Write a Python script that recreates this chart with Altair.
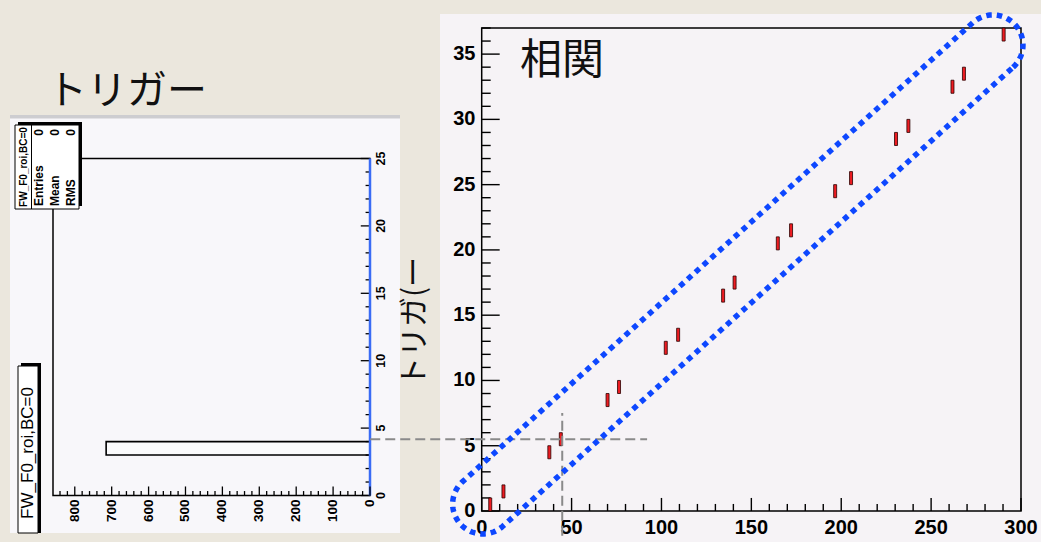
import altair as alt
import numpy as np
import pandas as pd

W, H = 1041, 542

# 2-D correlation histogram: filled cells (x centre, lower edge of the y bin)
corr_x = [2, 9.5, 35.5, 42, 68.5, 75, 101.5, 108.5, 134, 140.5,
          165, 172.5, 197.5, 206.5, 232, 239, 264, 270.5, 293]
corr_ybin = [0, 1, 4, 5, 8, 9, 12, 13, 16, 17,
             20, 21, 24, 25, 28, 29, 32, 33, 36]

# trigger histogram (drawn rotated): lower bin edge and entries
trig_bin = [3]
trig_count = [715]

corr_x_labels = [0, 50, 100, 150, 200, 250, 300]
corr_y_labels = [0, 5, 10, 15, 20, 25, 30, 35]
trig_count_labels = [0, 100, 200, 300, 400, 500, 600, 700, 800]
trig_bin_labels = [0, 5, 10, 15, 20, 25]

stat_title = "FW_F0_roi,BC=0"
stat_names = ["Entries", "Mean", "RMS"]
stat_values = ["0", "0", "0"]

# guide lines on the correlation plot
guide_y = 5.5
guide_x = 44.8

# selection band: two end caps joined by straight sides (data units)
band_cap_lo = (0.55, 0.54)
band_cap_hi = (284.4, 35.7)
band_rx, band_ry = 16.7, 2.3

# ---------------------------------------------------------------- scales
SXR = alt.Scale(domain=[0, 300], range=[481.7, 1021], nice=False, zero=False)
SYR = alt.Scale(domain=[0, 37], range=[511, 28], nice=False, zero=False)
SXL = alt.Scale(domain=[0, 859], range=[370, 53], nice=False, zero=False)
SYL = alt.Scale(domain=[0, 25], range=[495.5, 158.5], nice=False, zero=False)

one = pd.DataFrame({"k": [0]})
LABEL_FONT = "Liberation Sans"
TICK_TEXT = dict(font=LABEL_FONT, fontWeight="bold", color="black")


def box(x1, x2, y1, y2, **kw):
    return alt.Chart(one).mark_rect(**kw).encode(
        x=alt.value(x1), x2=alt.value(x2), y=alt.value(y1), y2=alt.value(y2))


def label(text, x, y, **kw):
    return alt.Chart(one).mark_text(text=text, **kw).encode(
        x=alt.value(x), y=alt.value(y))


def vals(v):
    return pd.DataFrame({"v": v})


layers = []

# ---------------------------------------------------------------- panels
layers.append(box(10, 400, 115, 533, fill="#f8f7fa"))
layers.append(box(10, 400, 115, 118.5, fill="#cdcdd0"))
layers.append(box(440, W, 14, H, fill="#f6f3f6"))

# ---------------------------------------------------------------- left: trigger histogram
layers.append(alt.Chart(one).mark_rect(fill="transparent", stroke="black", strokeWidth=1.5).encode(
    x=alt.XDatum(0, scale=SXL, axis=None), x2=alt.X2Datum(859),
    y=alt.YDatum(0, scale=SYL, axis=None), y2=alt.Y2Datum(25)))

trig_df = pd.DataFrame({"bin": trig_bin, "count": trig_count})
layers.append(alt.Chart(trig_df).transform_calculate(hi="datum.bin + 1").mark_rect(
    fill="#fbfbfc", stroke="black", strokeWidth=1.6).encode(
    x=alt.X("count:Q", scale=SXL, axis=None), x2=alt.X2Datum(0),
    y=alt.Y("bin:Q", scale=SYL, axis=None), y2="hi:Q"))

trig_bin_minor = [v for v in range(26) if v % 5]
trig_count_minor = [v for v in range(0, 860, 20) if v % 100]

# bin axis on the right: inward ticks, blue axis line, rotated labels
layers.append(alt.Chart(vals(trig_bin_minor)).mark_rule(color="black", strokeWidth=1.3).encode(
    y=alt.Y("v:Q", scale=SYL, axis=None),
    x=alt.XDatum(0, scale=SXL, axis=None), x2=alt.X2Datum(12)))
layers.append(alt.Chart(vals(trig_bin_labels)).mark_rule(color="black", strokeWidth=1.3).encode(
    y=alt.Y("v:Q", scale=SYL, axis=None),
    x=alt.XDatum(0, scale=SXL, axis=None), x2=alt.X2Datum(25)))
layers.append(alt.Chart(one).mark_rule(color="#3a6cf5", strokeWidth=2.5).encode(
    x=alt.XDatum(0, scale=SXL, axis=None),
    y=alt.YDatum(0, scale=SYL, axis=None), y2=alt.Y2Datum(25)))
layers.append(alt.Chart(vals(trig_bin_labels)).mark_text(
    angle=270, align="center", baseline="top", fontSize=12.5, **TICK_TEXT).encode(
    y=alt.Y("v:Q", scale=SYL, axis=None),
    x=alt.XDatum(-13.5, scale=SXL, axis=None),
    text=alt.Text("v:Q")))

# entries axis along the bottom
layers.append(alt.Chart(vals(trig_count_minor)).mark_rule(color="black", strokeWidth=1.3).encode(
    x=alt.X("v:Q", scale=SXL, axis=None),
    y=alt.YDatum(0, scale=SYL, axis=None), y2=alt.Y2Datum(0.33)))
layers.append(alt.Chart(vals(trig_count_labels)).mark_rule(color="black", strokeWidth=1.3).encode(
    x=alt.X("v:Q", scale=SXL, axis=None),
    y=alt.YDatum(0, scale=SYL, axis=None), y2=alt.Y2Datum(0.67)))
layers.append(alt.Chart(vals(trig_count_labels)).mark_text(
    angle=270, align="right", baseline="middle", fontSize=13.5, **TICK_TEXT).encode(
    x=alt.X("v:Q", scale=SXL, axis=None),
    y=alt.YDatum(-0.3, scale=SYL, axis=None),
    text=alt.Text("v:Q")))

# statistics box (top-left) with its shadow
layers.append(box(18, 82, 122, 206, fill="black"))
layers.append(box(15, 79, 125, 209, fill="white", stroke="black", strokeWidth=1))
layers.append(alt.Chart(one).mark_rule(color="black", strokeWidth=1).encode(
    x=alt.value(31.5), y=alt.value(125), y2=alt.value(209)))
layers.append(label(stat_title, 23.5, 167, angle=270, align="center", baseline="middle",
                    font=LABEL_FONT, fontWeight="bold", fontSize=10, color="black"))
for i, (name, value) in enumerate(zip(stat_names, stat_values)):
    cx = 39 + 16 * i
    layers.append(label(name, cx, 206, angle=270, align="left", baseline="middle",
                        font=LABEL_FONT, fontWeight="bold", fontSize=12, color="black"))
    layers.append(label(value, cx, 129, angle=270, align="right", baseline="middle",
                        font=LABEL_FONT, fontWeight="bold", fontSize=12, color="black"))

# title box (bottom-left) with its shadow
layers.append(box(21, 41, 363, 533, fill="black"))
layers.append(box(18, 38, 366, 533, fill="white", stroke="black", strokeWidth=1))
layers.append(label(stat_title, 27.5, 453, angle=270, align="center", baseline="middle",
                    font=LABEL_FONT, fontSize=17, color="black"))

# ---------------------------------------------------------------- right: correlation histogram
layers.append(alt.Chart(one).mark_rect(fill="transparent", stroke="black", strokeWidth=1.5).encode(
    x=alt.XDatum(0, scale=SXR, axis=None), x2=alt.X2Datum(300),
    y=alt.YDatum(0, scale=SYR, axis=None), y2=alt.Y2Datum(37)))

corr_y_minor = [v for v in range(38) if v % 5]
corr_x_minor = [v for v in range(0, 301, 10) if v % 50]

layers.append(alt.Chart(vals(corr_y_minor)).mark_rule(color="black", strokeWidth=1.4).encode(
    y=alt.Y("v:Q", scale=SYR, axis=None),
    x=alt.XDatum(0, scale=SXR, axis=None), x2=alt.X2Datum(5)))
layers.append(alt.Chart(vals(corr_y_labels)).mark_rule(color="black", strokeWidth=1.4).encode(
    y=alt.Y("v:Q", scale=SYR, axis=None),
    x=alt.XDatum(0, scale=SXR, axis=None), x2=alt.X2Datum(10)))
layers.append(alt.Chart(vals(corr_y_labels)).mark_text(
    align="right", baseline="middle", fontSize=20, **TICK_TEXT).encode(
    y=alt.Y("v:Q", scale=SYR, axis=None),
    x=alt.XDatum(-3.5, scale=SXR, axis=None),
    text=alt.Text("v:Q")))

layers.append(alt.Chart(vals(corr_x_minor)).mark_rule(color="black", strokeWidth=1.4).encode(
    x=alt.X("v:Q", scale=SXR, axis=None),
    y=alt.YDatum(0, scale=SYR, axis=None), y2=alt.Y2Datum(0.54)))
layers.append(alt.Chart(vals(corr_x_labels)).mark_rule(color="black", strokeWidth=1.4).encode(
    x=alt.X("v:Q", scale=SXR, axis=None),
    y=alt.YDatum(0, scale=SYR, axis=None), y2=alt.Y2Datum(1.0)))
layers.append(alt.Chart(vals(corr_x_labels)).mark_text(
    align="center", baseline="top", fontSize=20, **TICK_TEXT).encode(
    x=alt.X("v:Q", scale=SXR, axis=None),
    y=alt.YDatum(-0.5, scale=SYR, axis=None),
    text=alt.Text("v:Q")))

# filled cells: red box with a dark edge
corr_df = pd.DataFrame({"x": corr_x, "ybin": corr_ybin})
layers.append(alt.Chart(corr_df).transform_calculate(hi="datum.ybin + 1").mark_bar(
    size=3, color="#ee1c22", stroke="#2a0000", strokeWidth=0.8).encode(
    x=alt.X("x:Q", scale=SXR, axis=None),
    y=alt.Y("ybin:Q", scale=SYR, axis=None), y2="hi:Q"))

# dashed guides
layers.append(alt.Chart(one).mark_rule(color="#8a8a8a", strokeWidth=2, strokeDash=[10, 5], clip=False).encode(
    y=alt.YDatum(guide_y, scale=SYR, axis=None),
    x=alt.XDatum(-62, scale=SXR, axis=None), x2=alt.X2Datum(92)))
layers.append(alt.Chart(one).mark_rule(color="#8a8a8a", strokeWidth=2, strokeDash=[10, 5], clip=False).encode(
    x=alt.XDatum(guide_x, scale=SXR, axis=None),
    y=alt.YDatum(-1.9, scale=SYR, axis=None), y2=alt.Y2Datum(7.5)))

# dotted selection band around the diagonal
t_hi = np.deg2rad(np.arange(-48, 133, 3))
t_lo = np.deg2rad(np.arange(132, 313, 3))
bx = np.concatenate([band_cap_hi[0] + band_rx * np.cos(t_hi), band_cap_lo[0] + band_rx * np.cos(t_lo)])
by = np.concatenate([band_cap_hi[1] + band_ry * np.sin(t_hi), band_cap_lo[1] + band_ry * np.sin(t_lo)])
bx = np.append(bx, bx[0])
by = np.append(by, by[0])
band_df = pd.DataFrame({"x": bx, "y": by, "i": np.arange(len(bx))})
layers.append(alt.Chart(band_df).mark_line(color="#0d47ff", strokeWidth=5.5, strokeDash=[5.5, 5],
                                           strokeCap="butt", clip=False).encode(
    x=alt.X("x:Q", scale=SXR, axis=None), y=alt.Y("y:Q", scale=SYR, axis=None),
    order="i:Q"))

# ---------------------------------------------------------------- headings
CJK = "Noto Sans CJK JP"
layers.append(label("トリガー", 127, 92, font=CJK, fontSize=40, align="center", baseline="middle",
                    color="#111111"))
layers.append(label("相関", 562, 61, font=CJK, fontSize=42, align="center", baseline="middle",
                    color="#111111"))
layers.append(label("トリガ(ー", 414.5, 322, font=CJK, fontSize=30, angle=270, align="center",
                    baseline="middle", color="#111111"))

chart = alt.layer(*layers).resolve_scale(
    x="independent", y="independent"
).properties(
    width=W, height=H, padding=0,
    autosize=alt.AutoSizeParams(type="none"),
    background="#ebe7dd",
).configure_view(stroke=None)

chart.save("out.html", embed_options={"renderer": "svg", "actions": False})
